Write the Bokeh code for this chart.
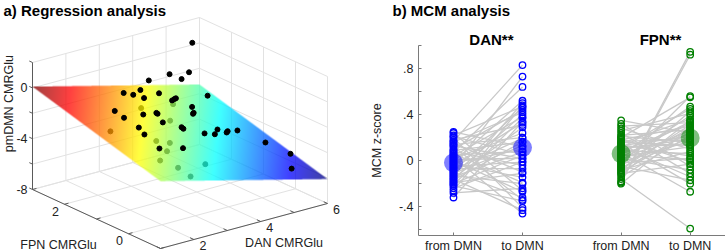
import numpy as np
from bokeh.plotting import figure
from bokeh.layouts import row
from bokeh.models import Range1d, Label, FixedTicker
from bokeh.embed import file_html
from bokeh.resources import INLINE
from bokeh.core.properties import value

FONT = "Liberation Sans"

# ---------------- panel a data ----------------
DAN = [5.65, 4.73, 5.38, 5.09, 4.07, 5.39, 3.03, 3.24, 3.54, 3.43, 4.06, 4.26, 4.39,
       4.46, 4.59, 2.15, 2.15, 2.85, 3.30, 3.25, 4.34, 4.35, 3.11, 3.47, 3.41, 2.20,
       2.09, 3.90, 4.17, 4.44, 4.59, 4.62, 4.98, 5.33, 5.62, 5.06, 2.68, 2.07,
       3.64, 4.74, 3.99, 1.81, 2.78, 3.10, 2.69, 2.11, 2.35, 2.37, 3.30]
FPN = [2.86, 2.61, 2.68, 2.61, 2.57, 2.11, 2.27, 2.19, 2.28, 2.05, 2.24, 2.04, 2.10,
       2.13, 1.76, 1.63, 1.34, 1.47, 1.53, 1.44, 1.47, 1.46, 1.13, 0.92, 0.80, 0.93,
       0.64, 0.65, 0.61, 0.81, 0.68, 0.68, 0.75, 0.24, -0.24, -0.86, 0.05, 0.15,
       2.36, 2.51, 1.82, 1.41, 0.99, 0.90, 0.56, 0.17, -0.14, -0.51, 0.00]
PMDMN = [0.42, -1.11, -1.50, -1.75, -1.09, -2.69, -0.99, -1.19, -1.13, -1.42, -1.71,
         -2.18, -2.23, -2.26, -2.60, -1.04, -1.24, -1.63, -1.89, -1.82, -2.63, -2.55,
         -2.04, -2.43, -2.37, -1.57, -1.70, -2.91, -3.12, -3.17, -3.36, -3.28, -3.56,
         -4.16, -4.70, -4.75, -2.51, -2.22,
         -2.72, -3.36, -3.33, -2.15, -3.11, -3.38, -3.35, -3.22, -3.60, -3.87, -4.15]
PLANE_COEF = [-1.325, -0.675, 0.70]      # intercept, DAN slope, FPN slope

DAN_LIM = [1, 6]
FPN_LIM = [-1, 3]
Z_LIM = [-8, 2]
DAN_TICKS = [1, 2, 3, 4, 5, 6]
DAN_TICK_LABELS = ["", "2", "", "4", "", "6"]
FPN_TICKS = [-1, 0, 1, 2, 3]
FPN_TICK_LABELS = ["", "0", "", "2", ""]
Z_TICKS = [-8, -6, -4, -2, 0, 2]
Z_TICK_LABELS = ["-8", "", "-4", "", "0", ""]

# ---------------- panel b data ----------------
X_POS = [1.0, 2.0, 3.43, 4.43]
X_LABELS = ["from DMN", "to DMN", "from DMN", "to DMN"]
GROUPS = ["DAN**", "FPN**"]
DAN_FROM = [0.25, 0.24, 0.22, 0.21, 0.20, 0.18, 0.17, 0.15, 0.14, 0.13, 0.12, 0.10,
            0.09, 0.08, 0.07, 0.06, 0.05, 0.04, 0.03, 0.02, 0.01, 0.00, -0.01, -0.02,
            -0.03, -0.04, -0.05, -0.06, -0.07, -0.08, -0.09, -0.10, -0.11, -0.12,
            -0.13, -0.14, -0.15, -0.16, -0.17, -0.18, -0.19, -0.20, -0.21, -0.22,
            -0.24, -0.26, -0.28, -0.32, 0.16]
DAN_TO = [0.12, -0.26, 0.47, 0.05, -0.41, 0.31, 0.83, -0.10, 0.20, 0.017, -0.34, 0.44,
          0.16, -0.04, 0.64, -0.19, 0.08, 0.38, -0.46, 0.24, 0.02, -0.27, 0.52, 0.10,
          -0.145, 0.33, -0.012, 0.73, -0.07, 0.195, 0.46, -0.32, 0.13, 0.40, -0.20,
          0.075, 0.29, -0.43, 0.165, 0.50, -0.11, 0.046, 0.37, -0.35, -0.01, 0.48,
          -0.24, 0.34, 0.42]
FPN_FROM = [0.35, 0.32, 0.30, 0.28, 0.26, 0.24, 0.22, 0.21, 0.20, 0.19, 0.18, 0.16,
            0.15, 0.14, 0.13, 0.12, 0.11, 0.10, 0.09, 0.08, 0.07, 0.06, 0.05, 0.04,
            0.03, 0.02, 0.01, 0.00, -0.01, -0.02, -0.03, -0.04, -0.05, -0.06, -0.07,
            -0.08, -0.09, -0.10, -0.11, -0.12, 0.12, -0.14, 0.15, -0.16, 0.17, -0.18,
            -0.19, -0.20, 0.05]
FPN_TO = [0.24, -0.05, 0.33, 0.10, 0.41, -0.11, 0.27, 0.16, 0.55, -0.01, 0.30, 0.13,
          0.36, 0.04, 0.21, -0.14, 0.45, 0.19, 0.06, 0.32, -0.27, 0.23, 0.47, 0.12,
          0.34, -0.08, 0.26, 0.39, 0.17, 0.02, 0.56, 0.28, -0.17, 0.20, 0.31, 0.08,
          0.43, 0.25, -0.03, 0.35, 0.14, 0.22, -0.20, -0.59, 0.18, 0.945, 0.92, 0.29,
          0.01]
Y_TICKS = [-0.6, -0.4, -0.2, 0.0, 0.2, 0.4, 0.6, 0.8, 1.0]
Y_TICK_LABELS = ["", "-.4", "", "0", "", ".4", "", ".8", ""]
Y_AXIS_LIM = [-0.65, 1.0]
X_AXIS_LIM = [0.493, 4.942]

# ---------------- view (projection) for panel a ----------------
ORIGIN = (160.0, 248.0)       # screen position of the (DAN min, FPN min, z min) corner
VD = (33.4, -9.0)             # screen shift per DAN unit
VF = (-32.0, -14.75)          # screen shift per FPN unit
VZ = (0.0, -12.7)             # screen shift per z unit
PLANE_ALPHA = 0.75

W_A, W_B, H_ALL = 358, 367, 252


def proj(d, f, z):
    d = np.asarray(d, float) - DAN_LIM[0]
    f = np.asarray(f, float) - FPN_LIM[0]
    z = np.asarray(z, float) - Z_LIM[0]
    sx = ORIGIN[0] + d * VD[0] + f * VF[0] + z * VZ[0]
    sy = ORIGIN[1] + d * VD[1] + f * VF[1] + z * VZ[1]
    return sx, -sy


def jet(t):
    t = np.clip(t, 0, 1)
    r = np.clip(1.5 - np.abs(4 * t - 3), 0, 1)
    g = np.clip(1.5 - np.abs(4 * t - 2), 0, 1)
    b = np.clip(1.5 - np.abs(4 * t - 1), 0, 1)
    return np.stack([r, g, b], -1)


pA = figure(width=W_A, height=H_ALL, x_range=Range1d(0, W_A), y_range=Range1d(-H_ALL, 0),
            output_backend="svg", toolbar_location=None, min_border=0,
            x_axis_location=None, y_axis_location=None, title=None)
pA.grid.visible = False
pA.outline_line_color = None

dmin, dmax = DAN_LIM
fmin, fmax = FPN_LIM
zmin, zmax = Z_LIM


def segs(pairs):
    xs, ys = [], []
    for p, q in pairs:
        X, Y = proj([p[0], q[0]], [p[1], q[1]], [p[2], q[2]])
        xs.append(list(X))
        ys.append(list(Y))
    return xs, ys


grid_pairs = []
for d in DAN_TICKS:
    grid_pairs.append(((d, fmin, zmin), (d, fmax, zmin)))
    grid_pairs.append(((d, fmax, zmin), (d, fmax, zmax)))
for f in FPN_TICKS:
    grid_pairs.append(((dmin, f, zmin), (dmax, f, zmin)))
    grid_pairs.append(((dmax, f, zmin), (dmax, f, zmax)))
for z in Z_TICKS:
    grid_pairs.append(((dmin, fmax, z), (dmax, fmax, z)))
    grid_pairs.append(((dmax, fmin, z), (dmax, fmax, z)))
gx, gy = segs(grid_pairs)
pA.multi_line(gx, gy, line_color="#e2e2e2", line_width=1)

axis_pairs = [((dmin, fmin, zmin), (dmax, fmin, zmin)),
              ((dmin, fmin, zmin), (dmin, fmax, zmin)),
              ((dmin, fmax, zmin), (dmin, fmax, zmax))]
for d in DAN_TICKS:
    axis_pairs.append(((d, fmin, zmin), (d, fmin + 0.12, zmin)))
for f in FPN_TICKS:
    axis_pairs.append(((dmin, f, zmin), (dmin + 0.12, f, zmin)))
for z in Z_TICKS:
    axis_pairs.append(((dmin, fmax, z), (dmin, fmax + 0.1, z)))
ax_x, ax_y = segs(axis_pairs)
pA.multi_line(ax_x, ax_y, line_color="#5a5a5a", line_width=1)

# points below / above the regression plane
b0, b1, b2 = PLANE_COEF
Dv = np.array(DAN); Fv = np.array(FPN); Zv = np.array(PMDMN)
below = Zv < b0 + b1 * Dv + b2 * Fv
px, py = proj(Dv, Fv, Zv)
pA.scatter(px[below], py[below], size=5, color="black")

# regression plane (semi-transparent jet-coloured surface)
cd_, cf_ = np.meshgrid([dmin, dmax], [fmin, fmax])
cz = b0 + b1 * cd_ + b2 * cf_
cx, cy = proj(cd_, cf_, cz)
x0 = np.floor(cx.min()) - 1; x1 = np.ceil(cx.max()) + 1
y0 = np.floor(cy.min()) - 1; y1 = np.ceil(cy.max()) + 1
W = int(x1 - x0); H = int(y1 - y0); SS = 4
xs_ = x0 + (np.arange(W * SS) + 0.5) / SS
ys_ = y0 + (np.arange(H * SS) + 0.5) / SS
XX, YY = np.meshgrid(xs_, ys_)
A = np.array(proj(0, 0, b0))
cD = np.array(proj(1, 0, b0 + b1)) - A
cF = np.array(proj(0, 1, b0 + b2)) - A
Minv = np.linalg.inv(np.array([[cD[0], cF[0]], [cD[1], cF[1]]]))
rx = XX - A[0]; ry = YY - A[1]
DD = Minv[0, 0] * rx + Minv[0, 1] * ry
FF = Minv[1, 0] * rx + Minv[1, 1] * ry
inside = (DD >= dmin) & (DD <= dmax) & (FF >= fmin) & (FF <= fmax)
ZZ = b0 + b1 * DD + b2 * FF
tt = (ZZ - cz.min()) / (cz.max() - cz.min())
rgb = jet(tt) * inside[..., None]
cnt = inside.reshape(H, SS, W, SS).sum(axis=(1, 3))
rgb_avg = rgb.reshape(H, SS, W, SS, 3).sum(axis=(1, 3)) / np.maximum(cnt, 1)[..., None]
img = np.zeros((H, W, 4), dtype=np.uint8)
img[..., :3] = np.round(rgb_avg * 255).astype(np.uint8)
img[..., 3] = np.round(PLANE_ALPHA * cnt / (SS * SS) * 255).astype(np.uint8)
img = np.ascontiguousarray(img).view(np.uint32).reshape(H, W)
pA.image_rgba(image=[img], x=x0, y=y0, dw=W, dh=H)

pA.scatter(px[~below], py[~below], size=5, color="black")

TXT = dict(text_font=value(FONT), text_font_size="12.5px", text_color="#222222",
           text_baseline="middle")
tx, ty = proj(DAN_TICKS, [fmin] * len(DAN_TICKS), [zmin] * len(DAN_TICKS))
pA.text(tx, ty, text=DAN_TICK_LABELS, x_offset=9, y_offset=6, text_align="center", **TXT)
tx, ty = proj([dmin] * len(FPN_TICKS), FPN_TICKS, [zmin] * len(FPN_TICKS))
pA.text(tx, ty, text=FPN_TICK_LABELS, x_offset=-9, y_offset=7, text_align="center", **TXT)
tx, ty = proj([dmin] * len(Z_TICKS), [fmax] * len(Z_TICKS), Z_TICKS)
pA.text(tx, ty, text=Z_TICK_LABELS, x_offset=-5, y_offset=0, text_align="right", **TXT)

lx, ly = proj([(dmin + dmax) / 2], [fmin], [zmin])
pA.text(lx, ly, text=["DAN CMRGlu"], x_offset=40, y_offset=17, text_align="center", **TXT)
lx, ly = proj([dmin], [(fmin + fmax) / 2], [zmin])
pA.text(lx, ly, text=["FPN CMRGlu"], x_offset=-38, y_offset=26, text_align="center", **TXT)
lx, ly = proj([dmin], [fmax], [(zmin + zmax) / 2 + 2])
pA.text(lx, ly, text=["pmDMN CMRGlu"], x_offset=-24, y_offset=3, angle=np.pi / 2,
        text_align="center", **TXT)

pA.text([3], [-10], text=["a) Regression analysis"], text_align="left", text_baseline="middle",
        text_font=value(FONT), text_font_size="15px", text_font_style="bold", text_color="black")

# ---------------- panel b ----------------
# frame covers the whole panel; axes are pinned/bounded to the data extent
ref_per_unit = 190.0 / (Y_AXIS_LIM[1] - Y_AXIS_LIM[0])
x_per_unit = 69.0
xb0 = X_AXIS_LIM[0] - 60.0 / x_per_unit
yb0 = Y_AXIS_LIM[0] - 17.0 / ref_per_unit
yb1 = Y_AXIS_LIM[1] + 45.0 / ref_per_unit
pB = figure(width=W_B, height=H_ALL, x_range=Range1d(xb0, X_AXIS_LIM[1]),
            y_range=Range1d(yb0, yb1), output_backend="svg", toolbar_location=None,
            title=None, min_border=0)
pB.grid.visible = False
pB.outline_line_color = None

for ax in (pB.xaxis[0], pB.yaxis[0]):
    ax.axis_line_color = "#7a7a7a"
    ax.major_tick_line_color = "#7a7a7a"
    ax.major_tick_in = 3
    ax.major_tick_out = 0
    ax.minor_tick_line_color = None
    ax.major_label_text_font = FONT
    ax.major_label_text_font_size = "12.5px"
    ax.major_label_text_color = "#222222"

pB.xaxis.fixed_location = Y_AXIS_LIM[0]
pB.xaxis.bounds = tuple(X_AXIS_LIM)
pB.xaxis.ticker = FixedTicker(ticks=X_POS)
pB.xaxis.major_label_overrides = {x: lab for x, lab in zip(X_POS, X_LABELS)}
pB.xaxis.major_label_standoff = 3
pB.yaxis.fixed_location = X_AXIS_LIM[0]
pB.yaxis.bounds = tuple(Y_AXIS_LIM)
pB.yaxis.ticker = FixedTicker(ticks=Y_TICKS)
pB.yaxis.major_label_overrides = {y: lab for y, lab in zip(Y_TICKS, Y_TICK_LABELS)}
pB.yaxis.major_label_standoff = 5
pB.yaxis.axis_label = "MCM z-score"
pB.yaxis.axis_label_text_font = FONT
pB.yaxis.axis_label_text_font_size = "12.5px"
pB.yaxis.axis_label_text_font_style = "normal"
pB.yaxis.axis_label_text_color = "#222222"
pB.yaxis.axis_label_standoff = 12

series = [(DAN_FROM, DAN_TO, X_POS[0], X_POS[1], "#0000ff"),
          (FPN_FROM, FPN_TO, X_POS[2], X_POS[3], "#008000")]
for yf, yt, xf, xt, col in series:
    pB.multi_line([[xf, xt] for _ in yf], [[a, b] for a, b in zip(yf, yt)],
                  line_color="#c8c8c8", line_width=1.3)
for yf, yt, xf, xt, col in series:
    pB.scatter([xf] * len(yf), yf, marker="circle", size=6.5, fill_color=None,
               line_color=col, line_width=1.3)
    pB.scatter([xt] * len(yt), yt, marker="circle", size=6.5, fill_color=None,
               line_color=col, line_width=1.3)
    pB.scatter([xf, xt], [float(np.mean(yf)), float(np.mean(yt))], marker="circle", size=19,
               fill_color=col, fill_alpha=0.5, line_color=None)

pB.add_layout(Label(x=X_AXIS_LIM[0] - 26.0 / x_per_unit, y=Y_AXIS_LIM[1] + 35.0 / ref_per_unit,
                    text="b) MCM analysis", text_align="left", text_baseline="middle",
                    text_font=FONT, text_font_size="15px", text_font_style="bold",
                    text_color="black"))
for gname, xc in zip(GROUPS, [(X_POS[0] + X_POS[1]) / 2 + 0.05, (X_POS[2] + X_POS[3]) / 2 + 0.07]):
    pB.add_layout(Label(x=xc, y=Y_AXIS_LIM[1] + 6.0 / ref_per_unit, text=gname,
                        text_align="center", text_baseline="middle", text_font=FONT,
                        text_font_size="15px", text_font_style="bold", text_color="black"))

layout = row(pA, pB)
open("out.html", "w").write(file_html(layout, INLINE))
